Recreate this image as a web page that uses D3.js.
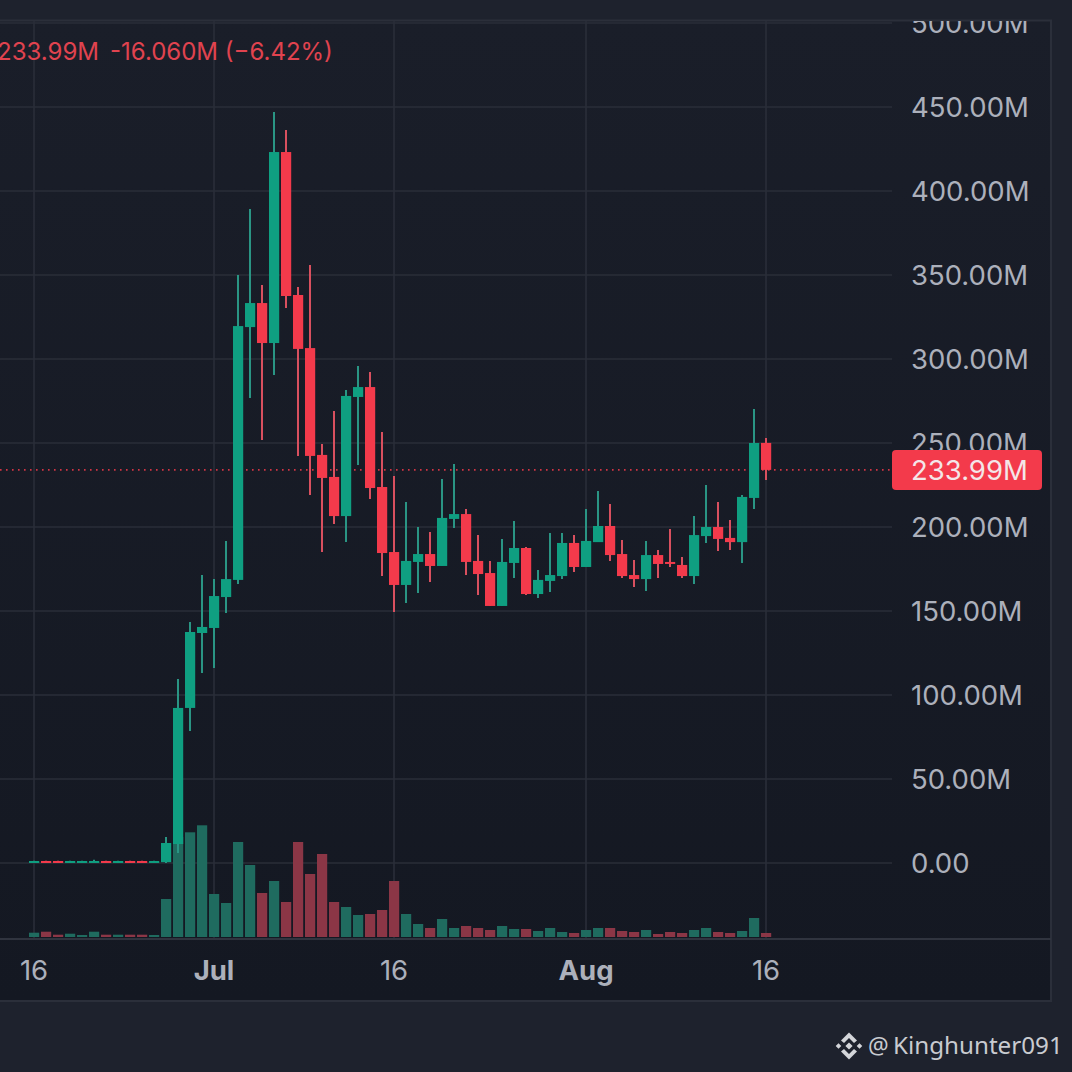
<!DOCTYPE html>
<html><head><meta charset="utf-8">
<script src="https://cdn.jsdelivr.net/npm/d3@7"></script>
<style>html,body{margin:0;padding:0;background:#1e222d;overflow:hidden}svg{display:block}</style>
</head><body><svg id="c" width="1072" height="1072"></svg>
<script>
// values in millions, one per day from 16 Jun to 16 Aug
const opens=[.6,1.2,1.2,.6,.6,.6,1.2,.6,1.2,1.2,.6,.5,11.3,92.3,136.9,139.9,158.3,168.5,319,333.3,309.5,423.2,338.1,306.5,242.9,229.8,206.5,277.4,283.3,223.8,185.1,165.5,179.2,183.9,176.8,204.8,207.7,179.8,172.6,153,178.6,187.5,160.1,167.9,170.8,190.5,176.2,191,200.6,183.9,171.4,169,183.3,179.2,177.4,170.8,194.6,200,193.5,191,217.3,250.05];
const highs=[1.4,1.4,1.4,1.4,1.4,2,1.4,1.4,1.4,1.4,1.4,15.5,109.5,143.5,171.4,169,191.7,350,389.3,344,447,436.3,342.9,356,249.4,269,281.5,295.8,292.3,256.5,230.4,214.9,200,197,228.6,237.5,210.7,195.2,179.8,192.9,203.6,188.1,174.4,196.4,196.4,195.2,210.7,221.4,213.7,192.3,180.4,191.7,186.3,198.8,182.1,206.5,225,214.9,204.2,219,270.2,253];
const lows=[.4,.4,.4,.4,.4,.4,.4,.4,.4,.4,.4,0,6,78.6,113.1,116.1,148.8,166.1,276.8,251.8,290.5,330.4,242.3,219,185.1,201.8,191,236.9,216.7,170.8,149.4,154.8,160.7,167.3,176.8,199.4,171.4,159.5,153,153,169.6,159.5,157.7,161.3,169,173.2,176.2,191,179.8,169.6,164.3,161.9,169.6,176.2,169.6,166.1,190.5,185.7,186.3,178.6,210.7,228];
const closes=[1.2,.6,.6,1.2,1.2,1.2,.6,1.2,.6,.6,1.2,11.9,92.3,137.5,140.5,158.9,169,319.6,333.3,309.5,423.2,337.5,306,242.3,229.2,206.5,278,283.3,223.2,184.5,165.5,179.8,183.9,176.8,205.4,207.7,179.2,172,153,179.2,187.5,160.1,168.5,171.4,190.5,176.2,191.7,200.6,183.3,170.8,169,183.3,178,178,170.8,195.2,200,192.9,191,217.9,250,233.99];
const volumes=[4.3,5.3,2.3,3.3,2,5.3,2.3,2.3,2.3,2.3,2,38,100,104.7,111.7,43,34,95,72,44,56,35,95,63,83,35,30,22,23,27,56,23,13,9,18,9,11,9,7,11,8,8,6,9,5,4,7,9,9,6,5,7,3,5,4,7,9,5,4,6,19,4];
const priceTicks=[0,50,100,150,200,250,300,350,400,450,500];
const dateTicks=[["2023-06-16","16",false],["2023-07-01","Jul",true],["2023-07-16","16",false],["2023-08-01","Aug",true],["2023-08-16","16",false]];
const legendParts=["233.99M","-16.060M (\u22126.42%)"];
const lastLabel="233.99M";
const watermark="Kinghunter091";

const UP="#0f9f81",DOWN="#f33a4b",UPW="#2a9584",DOWNW="#d9505f",UPV="#1f6b5f",DOWNV="#8b3646";
const GRID="#2a2e39",TXT="#acb0bb";
const FONT="Inter, 'Liberation Sans', sans-serif";

const days=d3.utcDay.range(new Date(Date.UTC(2023,5,16)),new Date(Date.UTC(2023,7,17)));
const x=d3.scaleUtc().domain([days[0],days[days.length-1]]).range([34,766]);
const y=d3.scaleLinear().domain([0,500]).range([863,23]);
const v=d3.scaleLinear().domain([0,120]).range([937,817]);
const svg=d3.select("#c");
const defs=svg.append("defs");
const g=defs.append("linearGradient").attr("id","bg").attr("x1",0).attr("x2",0).attr("y1",0).attr("y2",1);
g.append("stop").attr("offset",0).attr("stop-color","#1a1e29");
g.append("stop").attr("offset",1).attr("stop-color","#141822");
defs.append("clipPath").attr("id","pane").append("rect").attr("x",0).attr("y",21).attr("width",1051).attr("height",980);

svg.append("rect").attr("width",1072).attr("height",1072).attr("fill","#1e222d");
svg.append("rect").attr("x",-2).attr("y",20.5).attr("width",1053).attr("height",980.5).attr("fill","url(#bg)").attr("stroke","#2b2f3a").attr("stroke-width",2);

const pane=svg.append("g").attr("clip-path","url(#pane)");
// grid
pane.selectAll("line.h").data(priceTicks).join("line").attr("class","h")
 .attr("x1",0).attr("x2",892).attr("y1",d=>y(d)).attr("y2",d=>y(d)).attr("stroke",GRID).attr("stroke-width",1.6);
pane.selectAll("line.vv").data(dateTicks).join("line").attr("class","vv")
 .attr("x1",d=>x(new Date(d[0]))).attr("x2",d=>x(new Date(d[0]))).attr("y1",21).attr("y2",939).attr("stroke",GRID).attr("stroke-width",1.6);
pane.append("line").attr("x1",0).attr("x2",1051).attr("y1",939).attr("y2",939).attr("stroke","#30343f").attr("stroke-width",2);

// volume
pane.selectAll("rect.vol").data(days).join("rect").attr("class","vol")
 .attr("x",d=>x(d)-5).attr("width",10.2)
 .attr("y",(d,i)=>v(volumes[i])).attr("height",(d,i)=>v(0)-v(volumes[i]))
 .attr("fill",(d,i)=>closes[i]>=opens[i]?UPV:DOWNV);

// last price line
pane.append("line").attr("x1",0).attr("x2",892).attr("y1",y(233.99)).attr("y2",y(233.99))
 .attr("stroke",DOWN).attr("stroke-width",1.6).attr("stroke-dasharray","1.6 4.4").attr("opacity",.85);

// candles
pane.selectAll("line.w").data(days).join("line").attr("class","w")
 .attr("x1",d=>x(d)).attr("x2",d=>x(d))
 .attr("y1",(d,i)=>y(highs[i])).attr("y2",(d,i)=>y(lows[i]))
 .attr("stroke",(d,i)=>closes[i]>=opens[i]?UPW:DOWNW).attr("stroke-width",2);
pane.selectAll("rect.b").data(days).join("rect").attr("class","b")
 .attr("x",d=>x(d)-5).attr("width",10.2)
 .attr("y",(d,i)=>y(Math.max(opens[i],closes[i])))
 .attr("height",(d,i)=>Math.max(2,Math.abs(y(opens[i])-y(closes[i]))))
 .attr("fill",(d,i)=>closes[i]>=opens[i]?UP:DOWN);

// price axis
const ya=d3.axisRight(y).tickValues(priceTicks).tickSize(0).tickPadding(0).tickFormat(d=>d3.format(".2f")(d)+(d?"M":""));
const yg=pane.append("g").attr("transform","translate(911,0)").call(ya);
yg.select(".domain").remove();
yg.selectAll("text").attr("font-family",FONT).attr("font-size",27.5).attr("fill",TXT).attr("dy",".35em");

// date axis
pane.selectAll("text.dt").data(dateTicks).join("text").attr("class","dt")
 .attr("x",d=>x(new Date(d[0]))).attr("y",980).attr("text-anchor","middle")
 .attr("font-family",FONT).attr("font-size",27.5).attr("font-weight",d=>d[2]?700:400)
 .attr("fill",TXT).text(d=>d[1]);

// last price tag
svg.append("rect").attr("x",892).attr("y",450).attr("width",150).attr("height",40).attr("rx",4).attr("fill",DOWN);
svg.append("text").attr("x",911).attr("y",479.5).attr("font-family",FONT).attr("font-size",27.5).attr("fill","#f4e6e8").text(lastLabel);

// legend
svg.append("text").attr("x",-3).attr("y",60).attr("font-family",FONT).attr("font-size",24).attr("fill","#e0434f").text(legendParts[0]);
svg.append("text").attr("x",110).attr("y",60).attr("font-family",FONT).attr("font-size",24).attr("fill","#e0434f").text(legendParts[1]);

// watermark
const wm=svg.append("g").attr("transform","translate(849,1046)").attr("fill","#d4d6da");
const dia=(cx,cy,r)=>`M${cx-r},${cy}L${cx},${cy-r}L${cx+r},${cy}L${cx},${cy+r}Z`;
wm.append("path").attr("d",dia(0,0,3.6)+dia(-10.5,0,2.8)+dia(10.5,0,2.8)
 +"M0,-13.5L8,-5.5L5,-3L0,-8L-5,-3L-8,-5.5Z"+"M0,13.5L8,5.5L5,3L0,8L-5,3L-8,5.5Z");
svg.append("text").attr("x",868).attr("y",1054).attr("font-family","'Noto Sans', sans-serif").attr("font-size",23).attr("fill","#c9cbd0").text("@");
svg.append("text").attr("x",893).attr("y",1054).attr("font-family","'Noto Sans', sans-serif").attr("font-size",24.2).attr("fill","#c9cbd0").text(watermark);
</script></body></html>
